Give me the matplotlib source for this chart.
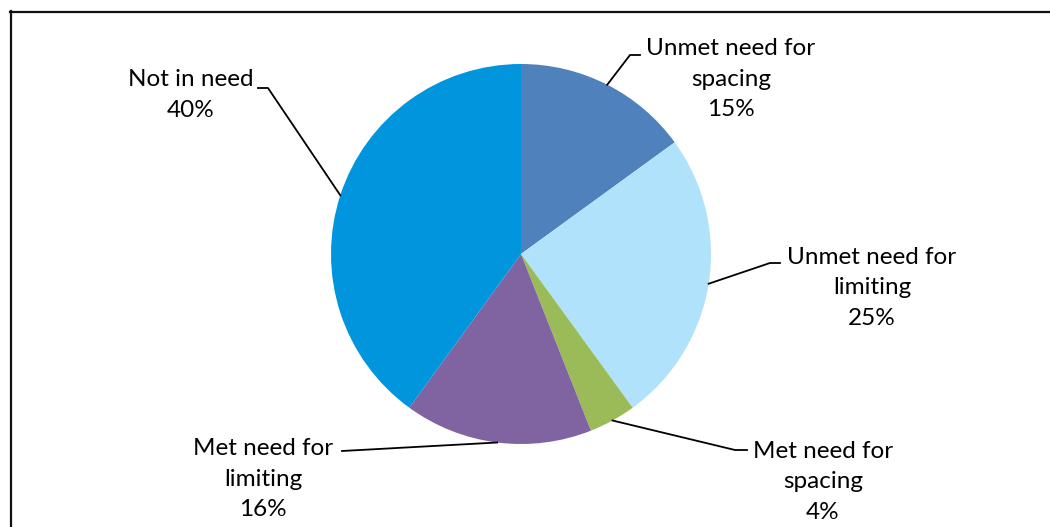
import matplotlib
matplotlib.use("Agg")
import matplotlib.pyplot as plt
import numpy as np
from matplotlib.lines import Line2D

categories = ["Unmet need for\nspacing", "Unmet need for\nlimiting", "Met need for\nspacing",
              "Met need for\nlimiting", "Not in need"]
values = [15, 25, 4, 16, 40]
colors = ["#4F81BD", "#B0E3FB", "#9BBB59", "#8064A2", "#0095DD"]

W, H = 1050, 527
fig = plt.figure(figsize=(W / 100, H / 100), dpi=100)
ax = fig.add_axes([0, 0, 1, 1])

cx, cy, R = 521, H - 254, 190
wedges, _ = ax.pie(values, colors=colors, startangle=90, counterclock=False,
                   center=(cx, cy), radius=R, frame=True,
                   wedgeprops=dict(linewidth=0))
ax.set_xlim(0, W)
ax.set_ylim(0, H)
ax.set_aspect("equal")
ax.axis("off")

# label layout: (text center x, text center y px, elbow px, horizontal end px)
layout = [
    (731, 79, (630, 55), (640, 55)),
    (872, 288, (770, 263), (780, 263)),
    (823, 482, (735, 450), (747, 450)),
    (263, 479, (342, 451), (342, 451)),
    (191, 95, (268, 88), (258, 88)),
]
total = sum(values)
for w, cat, v, (tx, ty, elbow, hend) in zip(wedges, categories, values, layout):
    mid = np.deg2rad((w.theta1 + w.theta2) / 2)
    ax_, ay_ = cx + R * np.cos(mid), cy + R * np.sin(mid)
    xs = [ax_, elbow[0], hend[0]]
    ys = [ay_, H - elbow[1], H - hend[1]]
    ax.add_line(Line2D(xs, ys, color="black", lw=1.3))
    label = f"{cat}\n{round(100 * v / total)}%"
    ax.text(tx, H - ty, label, ha="center", va="center", fontsize=17.5,
            family="Lato", linespacing=1.57, color="black")

# outer frame
fig.add_artist(Line2D([10.5 / W, 10.5 / W], [0, 1 - 11 / H], transform=fig.transFigure,
                      color="#111111", lw=1.6))
fig.add_artist(Line2D([10 / W, 1], [1 - 12 / H, 1 - 12 / H], transform=fig.transFigure,
                      color="#111111", lw=1.6))

fig.savefig("out.png", dpi=100)
